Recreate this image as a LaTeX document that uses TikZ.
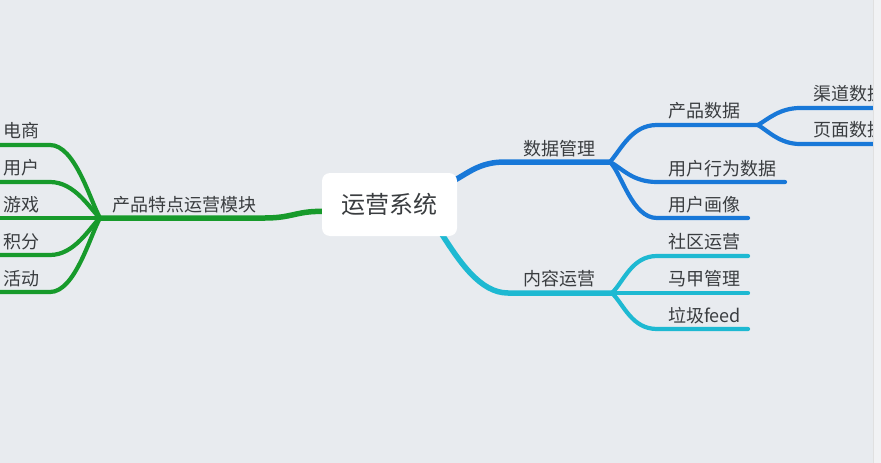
\documentclass[tikz,border=0pt]{standalone}
\usepackage{fontspec}
\setmainfont{Noto Sans CJK SC}
\usetikzlibrary{calc,backgrounds}
\definecolor{bgc}{HTML}{E8EBEF}
\definecolor{txt}{HTML}{3A3D40}
\definecolor{gbr}{HTML}{179A2B}
\definecolor{bbr}{HTML}{1878D8}
\definecolor{cbr}{HTML}{1EB9D2}
\definecolor{stripc}{HTML}{F1F2F4}
\begin{document}
\begin{tikzpicture}[x=1pt,y=-1pt,
  lbl/.style={anchor=west, inner sep=0pt, font=\fontsize{18}{18}\selectfont, text=txt, text height=14.5pt, text depth=0.8pt},
  rootbox/.style={fill=white, rounded corners=8pt, minimum width=135pt, minimum height=63pt, inner sep=0pt, font=\fontsize{24}{24}\selectfont, text=txt, text height=19pt, text depth=0.8pt},
  mainbr/.style={line width=5.5pt, line cap=round},
  subbr/.style={line width=4.2pt, line cap=round}]
\useasboundingbox (0,0) rectangle (881,463);
% root
\node[rootbox] (root) at (389.5,204.5) {运营系统};
% labels
\node[lbl] (pm) at (112,204.5) {产品特点运营模块};
\node[lbl] (ds) at (3,131) {电商};
\node[lbl] (yh) at (3,168) {用户};
\node[lbl] (yx) at (3,204.5) {游戏};
\node[lbl] (jf) at (3,241.5) {积分};
\node[lbl] (hd) at (3,278.5) {活动};
\node[lbl] (sj) at (523,148.5) {数据管理};
\node[lbl] (cp) at (668,111) {产品数据};
\node[lbl] (xw) at (668,168.5) {用户行为数据};
\node[lbl] (hx) at (668,205) {用户画像};
\node[lbl] (qd) at (813,93.5) {渠道数据};
\node[lbl] (ym) at (813,130) {页面数据};
\node[lbl] (nr) at (523,279) {内容运营};
\node[lbl] (sq) at (668,242) {社区运营};
\node[lbl] (mj) at (668,279) {马甲管理};
\node[lbl] (lj) at (668,316) {垃圾feed};
% coordinates
\coordinate (gIn) at ($(root.west)+(3,7)$);
\coordinate (gMid) at (265,218);
\coordinate (g) at (100,218);
\foreach \n/\y in {1/145,2/182,3/218,4/255,5/292}{
  \coordinate (gc\n) at (50,\y);
  \coordinate (ge\n) at (0,\y);
}
\coordinate (bIn) at ($(root.east)+(-3,-24)$);
\coordinate (bMid) at (505,162);
\coordinate (b) at (610,162);
\coordinate (bc1) at (657,125);
\coordinate (b1) at (758,125);
\coordinate (bc2) at (657,182);
\coordinate (be2) at (785,182);
\coordinate (bc3) at (657,218);
\coordinate (be3) at (748,218);
\coordinate (bq) at (800,108);
\coordinate (bqe) at (881,108);
\coordinate (bp) at (800,144);
\coordinate (bpe) at (881,144);
\coordinate (cIn) at ($(root.south east)+(-16,-3)$);
\coordinate (cMid) at (508,293);
\coordinate (c) at (612,293);
\coordinate (cc1) at (657,256);
\coordinate (ce1) at (748,256);
\coordinate (ce2) at (748,293);
\coordinate (cc3) at (657,329);
\coordinate (ce3) at (748,329);
\begin{pgfonlayer}{background}
\fill[bgc] (0,0) rectangle (881,463);
% green
\draw[mainbr, gbr] (gIn) .. controls +(-28,-1) and +(28,0) .. (gMid) -- (g);
\draw[subbr, gbr] (g) .. controls +(-10,-18) and +(25,0) .. (gc1) -- (ge1);
\draw[subbr, gbr] (g) .. controls +(-10,-9) and +(25,0) .. (gc2) -- (ge2);
\draw[subbr, gbr] (g) -- (ge3);
\draw[subbr, gbr] (g) .. controls +(-10,9) and +(25,0) .. (gc4) -- (ge4);
\draw[subbr, gbr] (g) .. controls +(-10,18) and +(25,0) .. (gc5) -- (ge5);
% blue
\draw[mainbr, bbr] (bIn) .. controls +(16,-9) and +(-24,0) .. (bMid) -- (b);
\draw[subbr, bbr] (b) .. controls +(12,-14) and +(-25,0) .. (bc1) -- (b1);
\draw[subbr, bbr] (b) .. controls +(12,6) and +(-25,0) .. (bc2) -- (be2);
\draw[subbr, bbr] (b) .. controls +(12,12) and +(-25,0) .. (bc3) -- (be3);
\draw[subbr, bbr] (b1) .. controls +(10,-6) and +(-20,0) .. (bq) -- (bqe);
\draw[subbr, bbr] (b1) .. controls +(10,6) and +(-20,0) .. (bp) -- (bpe);
% cyan
\draw[mainbr, cbr] (cIn) .. controls +(18,28) and +(-28,0) .. (cMid) -- (c);
\draw[subbr, cbr] (c) .. controls +(12,-12) and +(-25,0) .. (cc1) -- (ce1);
\draw[subbr, cbr] (c) -- (ce2);
\draw[subbr, cbr] (c) .. controls +(12,12) and +(-25,0) .. (cc3) -- (ce3);
\end{pgfonlayer}
% right strip
\fill[stripc] (873,0) rectangle (881,463);
\draw[line width=0.6pt, draw=black!12] (873.3,0) -- (873.3,463);
\end{tikzpicture}
\end{document}
